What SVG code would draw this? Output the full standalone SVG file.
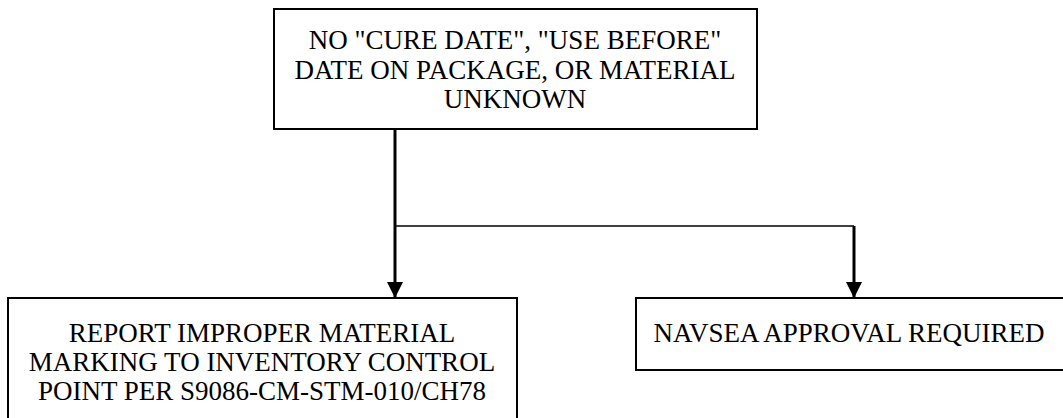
<svg xmlns="http://www.w3.org/2000/svg" width="1063" height="418" viewBox="0 0 1063 418">
<style>
.box{fill:#fff;stroke:#000;stroke-width:2}
.t{font-family:"Liberation Serif","Times New Roman",serif;font-size:27px;fill:#000;text-anchor:middle}
.c{fill:none;stroke:#000}
</style>
<defs>
<marker id="arr" markerWidth="16" markerHeight="17" refX="16" refY="8" orient="auto" markerUnits="userSpaceOnUse" viewBox="0 0 16 16">
<path d="M0,0 L16,8 L0,16 Z" fill="#000"/>
</marker>
</defs>
<rect width="1063" height="418" fill="#fff"/>
<g id="connectors">
<path class="c" d="M395,128 V298" stroke-width="3" marker-end="url(#arr)"/>
<path class="c" d="M395,226 H854" stroke-width="1.6"/>
<path class="c" d="M854,226 V298" stroke-width="3" marker-end="url(#arr)"/>
</g>
<g id="node-top">
<rect class="box" x="274" y="9" width="483" height="120"/>
<text class="t" x="515" y="49">NO "CURE DATE", "USE BEFORE"</text>
<text class="t" x="515" y="78.5">DATE ON PACKAGE, OR MATERIAL</text>
<text class="t" x="515" y="108">UNKNOWN</text>
</g>
<g id="node-report">
<rect class="box" x="8" y="298" width="509" height="130"/>
<text class="t" x="262" y="342">REPORT IMPROPER MATERIAL</text>
<text class="t" x="262" y="371">MARKING TO INVENTORY CONTROL</text>
<text class="t" x="262" y="400">POINT PER S9086-CM-STM-010/CH78</text>
</g>
<g id="node-navsea">
<rect class="box" x="636" y="298" width="440" height="72"/>
<text class="t" x="849" y="342">NAVSEA APPROVAL REQUIRED</text>
</g>
</svg>
